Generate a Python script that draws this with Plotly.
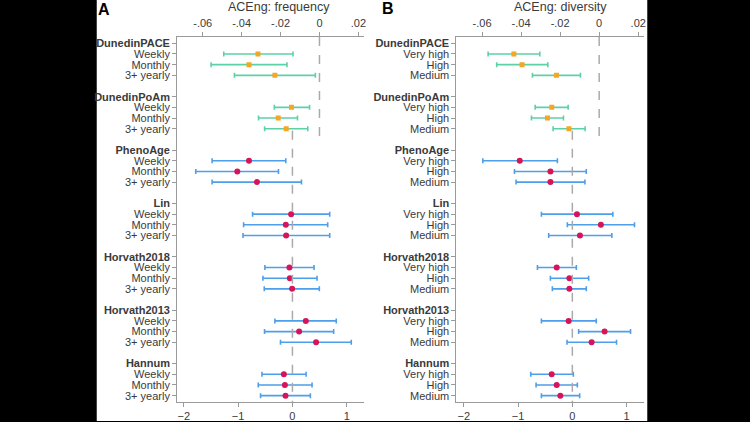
import plotly.graph_objects as go

# Clock groups and exposure levels
groups = ["DunedinPACE", "DunedinPoAm", "PhenoAge", "Lin", "Horvath2018", "Horvath2013", "Hannum"]
freq_levels = ["Weekly", "Monthly", "3+ yearly"]
div_levels = ["Very high", "High", "Medium"]

# Panel A: ACEng frequency (estimate, lower CI, upper CI)
freq_est = [[-0.0316, -0.0362, -0.0229], [-0.0144, -0.0212, -0.0171],
            [-0.800, -1.015, -0.654], [-0.024, -0.122, -0.116],
            [-0.055, -0.048, -0.006], [0.246, 0.123, 0.435],
            [-0.158, -0.139, -0.128]]
freq_lo = [[-0.0492, -0.0557, -0.0437], [-0.0232, -0.0313, -0.0282],
           [-1.479, -1.780, -1.479], [-0.734, -0.899, -0.910],
           [-0.507, -0.543, -0.519], [-0.323, -0.514, -0.220],
           [-0.561, -0.629, -0.587]]
freq_hi = [[-0.0136, -0.0167, -0.0021], [-0.0051, -0.0113, -0.0060],
           [-0.122, -0.257, 0.166], [0.686, 0.649, 0.686],
           [0.398, 0.453, 0.495], [0.807, 0.759, 1.083],
           [0.251, 0.361, 0.330]]

# Panel B: ACEng diversity
div_est = [[-0.0437, -0.0395, -0.0219], [-0.0243, -0.0265, -0.0155],
           [-0.969, -0.404, -0.404], [0.085, 0.526, 0.140],
           [-0.288, -0.055, -0.055], [-0.068, 0.594, 0.355],
           [-0.380, -0.288, -0.221]]
div_lo = [[-0.0569, -0.0525, -0.0342], [-0.0328, -0.0347, -0.0236],
          [-1.649, -1.066, -1.037], [-0.570, -0.092, -0.436],
          [-0.643, -0.404, -0.368], [-0.570, 0.116, -0.098],
          [-0.766, -0.668, -0.570]]
div_hi = [[-0.0304, -0.0263, -0.0096], [-0.0159, -0.0183, -0.0072],
          [-0.276, 0.257, 0.232], [0.746, 1.145, 0.728],
          [0.074, 0.300, 0.257], [0.441, 1.072, 0.814],
          [0.018, 0.092, 0.135]]

top_ticks = [-0.06, -0.04, -0.02, 0, 0.02]
top_text = ["-.06", "-.04", "-.02", "0", ".02"]
bottom_ticks = [-2, -1, 0, 1]

W, H = 750, 422
FONT = "Liberation Sans"
AXC = "#9a9a9a"
TXT = "#3a3a3a"

def px(x):
    return x / W

def py(y):
    return 1 - y / H

fig = go.Figure()

def add_panel(est, lo, hi, levels, xb, xt, ya):
    tickvals, ticktext = [], []
    for g, name in enumerate(groups):
        base = 5 * g
        tickvals.append(base)
        ticktext.append("<b>" + name + "</b>")
        rows = [base + 1 + i for i in range(3)]
        tickvals += rows
        ticktext += levels
        top = g < 2
        fig.add_trace(go.Scatter(
            x=est[g], y=rows, mode="markers",
            xaxis=xt if top else xb, yaxis=ya,
            marker=dict(symbol="square" if top else "circle",
                        size=5 if top else 6,
                        color="#f5a623" if top else "#d6145a"),
            error_x=dict(type="data", symmetric=False,
                         array=[h - e for h, e in zip(hi[g], est[g])],
                         arrayminus=[e - l for e, l in zip(est[g], lo[g])],
                         color="#5cd1a6" if top else "#4e9fe9",
                         thickness=1.6, width=2.5),
            showlegend=False, hoverinfo="skip"))
    return tickvals, ticktext

tvA, ttA = add_panel(freq_est, freq_lo, freq_hi, freq_levels, "x", "x2", "y")
tvB, ttB = add_panel(div_est, div_lo, div_hi, div_levels, "x3", "x4", "y2")

ydom = [py(403), py(37)]
yr = [33.6, -0.6]

def xaxis(dom, rng, side, ticks, text=None, **kw):
    d = dict(domain=dom, range=rng, side=side, showgrid=False, zeroline=False,
             showline=True, linecolor=AXC, linewidth=1.2, ticks="outside",
             ticklen=4, tickcolor=AXC, tickvals=ticks,
             tickfont=dict(family=FONT, size=11, color=TXT), fixedrange=True)
    if text:
        d["ticktext"] = text
    d.update(kw)
    return d

def yaxis(anchor, tv, tt):
    return dict(domain=ydom, range=yr, anchor=anchor, showgrid=False, zeroline=False,
                showline=True, linecolor=AXC, linewidth=1.2, ticks="outside",
                ticklen=4, tickcolor=AXC, tickvals=tv, ticktext=tt,
                tickfont=dict(family=FONT, size=11, color=TXT), fixedrange=True)

domA = [px(177.7), px(365)]
domB = [px(457.7), px(646)]

fig.update_layout(
    width=W, height=H,
    margin=dict(l=0, r=0, t=0, b=0),
    paper_bgcolor="black", plot_bgcolor="white",
    font=dict(family=FONT, color=TXT),
    xaxis=xaxis(domA, [-2.121, 1.318], "bottom", bottom_ticks, anchor="y"),
    xaxis2=xaxis(domA, [-0.0731, 0.0229], "top", top_ticks, top_text,
                 anchor="y", overlaying="x"),
    xaxis3=xaxis(domB, [-2.134, 1.325], "bottom", bottom_ticks, anchor="y2"),
    xaxis4=xaxis(domB, [-0.0731, 0.0231], "top", top_ticks, top_text,
                 anchor="y2", overlaying="x3"),
    yaxis=yaxis("x", tvA, ttA),
    yaxis2=yaxis("x3", tvB, ttB),
)

shapes = [dict(type="rect", xref="paper", yref="paper", x0=px(97), x1=px(649),
               y0=0, y1=1, fillcolor="white", line=dict(width=0), layer="below")]
dash = dict(color="#aaaaaa", width=1.5, dash="dash")
for xt, xb, ya in [("x2", "x", "y"), ("x4", "x3", "y2")]:
    shapes.append(dict(type="line", xref=xt, yref=ya, x0=0, x1=0, y0=-0.6, y1=8.9, line=dash))
    shapes.append(dict(type="line", xref=xb, yref=ya, x0=0, x1=0, y0=8.2, y1=33.6, line=dash))
fig.update_layout(shapes=shapes)

annotations = [
    dict(text="<b>A</b>", x=px(104), y=py(10), font=dict(size=16, color="black")),
    dict(text="<b>B</b>", x=px(389), y=py(9), font=dict(size=16, color="black")),
    dict(text="ACEng: frequency", x=px(280), y=py(7), font=dict(size=12.5, color=TXT)),
    dict(text="ACEng: diversity", x=px(562), y=py(7), font=dict(size=12.5, color=TXT)),
]
for a in annotations:
    a.update(xref="paper", yref="paper", showarrow=False, xanchor="center", yanchor="middle")
    a["font"]["family"] = FONT
fig.update_layout(annotations=annotations)

# drop the page's default body margin so the figure fills the window
fig.write_html("out.html", config={"displayModeBar": False},
               post_script="document.body.style.margin='0';document.body.style.background='black';")
